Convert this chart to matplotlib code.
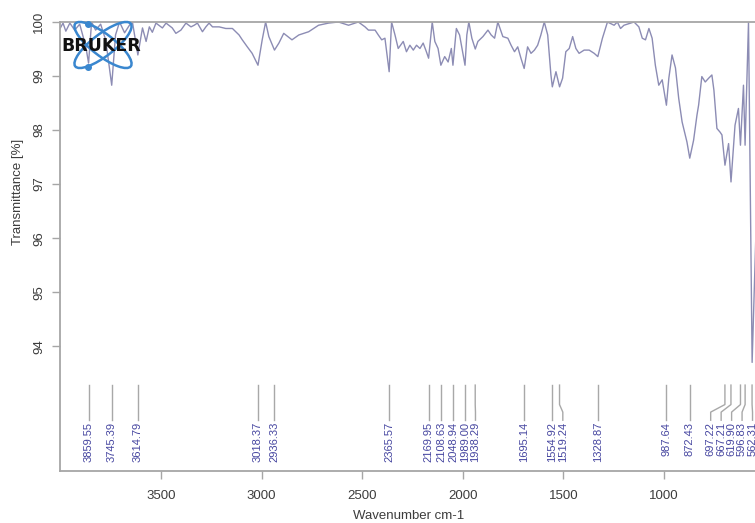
import matplotlib
matplotlib.use('Agg')
import matplotlib.pyplot as plt
from matplotlib.patches import Ellipse
import numpy as np

# spectrum (wavenumber cm-1, transmittance %)
wavenumber = [4000, 3987, 3973, 3953, 3929, 3904, 3874, 3860, 3845, 3825,
              3800, 3775, 3745, 3726, 3706, 3681, 3657, 3642, 3615, 3592,
              3574, 3558, 3543, 3525, 3493, 3475, 3444, 3426, 3401, 3376,
              3351, 3335, 3319, 3294, 3277, 3261, 3244, 3211, 3178, 3145,
              3112, 3096, 3071, 3047, 3018, 2997, 2980, 2964, 2936, 2914,
              2890, 2849, 2815, 2766, 2717, 2667, 2618, 2568, 2519, 2486,
              2469, 2436, 2420, 2403, 2387, 2366, 2354, 2337, 2321, 2296,
              2280, 2263, 2246, 2230, 2213, 2197, 2181, 2170, 2152, 2139,
              2123, 2109, 2090, 2073, 2057, 2049, 2032, 2016, 1989, 1980,
              1970, 1955, 1938, 1925, 1900, 1875, 1859, 1842, 1826, 1801,
              1776, 1760, 1743, 1727, 1711, 1695, 1678, 1661, 1644, 1628,
              1612, 1595, 1578, 1562, 1555, 1537, 1519, 1504, 1488, 1471,
              1454, 1438, 1422, 1397, 1372, 1347, 1329, 1306, 1281, 1248,
              1232, 1216, 1199, 1166, 1149, 1125, 1108, 1092, 1075, 1059,
              1043, 1026, 1009, 988, 976, 960, 943, 927, 910, 886,
              872, 853, 836, 828, 812, 795, 778, 762, 752, 737,
              721, 712, 697, 679, 667, 647, 630, 620, 605, 597,
              580, 562, 520, 480, 440, 400]
transmittance = [99.89, 99.98, 99.83, 99.98, 99.85, 99.96, 99.55, 99.24, 100.0, 99.85,
                 99.96, 99.67, 98.83, 99.76, 100.0, 99.80, 99.94, 100.0, 99.39, 99.89,
                 99.64, 99.91, 99.81, 99.98, 99.89, 99.98, 99.89, 99.79, 99.85, 99.98,
                 99.91, 99.94, 99.98, 99.82, 99.91, 99.98, 99.91, 99.91, 99.88, 99.88,
                 99.76, 99.67, 99.54, 99.42, 99.20, 99.67, 100.0, 99.73, 99.48, 99.61,
                 99.79, 99.67, 99.76, 99.82, 99.94, 99.98, 100.0, 99.94, 100.0, 99.91,
                 99.85, 99.85, 99.76, 99.67, 99.70, 99.08, 100.0, 99.76, 99.51, 99.64,
                 99.45, 99.57, 99.48, 99.57, 99.51, 99.61, 99.45, 99.33, 100.0, 99.64,
                 99.51, 99.20, 99.36, 99.26, 99.51, 99.20, 99.88, 99.76, 99.20, 99.76,
                 100.0, 99.70, 99.50, 99.64, 99.73, 99.85, 99.76, 99.70, 100.0, 99.73,
                 99.70, 99.57, 99.45, 99.54, 99.33, 99.14, 99.54, 99.42, 99.48, 99.57,
                 99.76, 100.0, 99.76, 99.02, 98.80, 99.08, 98.80, 98.96, 99.45, 99.51,
                 99.73, 99.51, 99.42, 99.48, 99.48, 99.42, 99.36, 99.70, 100.0, 99.94,
                 100.0, 99.88, 99.94, 99.98, 100.0, 99.91, 99.70, 99.67, 99.88, 99.70,
                 99.20, 98.83, 98.93, 98.46, 98.96, 99.39, 99.15, 98.59, 98.15, 97.78,
                 97.48, 97.81, 98.28, 98.46, 98.99, 98.89, 98.96, 99.02, 98.74, 98.03,
                 97.96, 97.91, 97.35, 97.75, 97.04, 98.09, 98.40, 97.72, 98.83, 97.72,
                 100.0, 93.70, 99.0, 99.5, 99.6, 99.6]

peaks = [3859.55, 3745.39, 3614.79, 3018.37, 2936.33, 2365.57, 2169.95, 2108.63,
         2048.94, 1989.00, 1938.29, 1695.14, 1554.92, 1519.24, 1328.87, 987.64,
         872.43, 697.22, 667.21, 619.90, 596.83, 562.31]

x_ticks = [3500, 3000, 2500, 2000, 1500, 1000]
y_ticks = [94, 95, 96, 97, 98, 99, 100]

plt.rcParams['font.family'] = ['Liberation Sans', 'DejaVu Sans']

W, H = 755, 523
fig = plt.figure(figsize=(W / 100, H / 100), dpi=100)

# axes placed in pixels: 4000 at x=60.4, 0.2012 px per cm-1, y 91.69..100 from 471 to 22
x0, scale = 60.4, 0.2012
ax = fig.add_axes([x0 / W, (H - 471) / H, 3600 * scale / W, 449 / H])
ax.set_xlim(4000, 400)
ax.set_ylim(91.69, 100)

line_col = '#8c8cb4'
ax.plot(wavenumber, np.clip(transmittance, None, 100), color=line_col, lw=1.0)

spine_col = '#a6a6a6'
for s in ['left', 'bottom', 'top']:
    ax.spines[s].set_color(spine_col)
    ax.spines[s].set_linewidth(1.3)
ax.spines['right'].set_visible(False)

ax.set_xticks(x_ticks)
ax.set_yticks(y_ticks)
ax.tick_params(axis='both', colors=spine_col, labelcolor='#3c3c3c',
               labelsize=9.5, length=6, width=1, pad=8)
ax.tick_params(axis='y', labelrotation=90, pad=5)
for lab in ax.get_yticklabels():
    lab.set_verticalalignment('center')

# peak labels, spread apart where they crowd
gap = 52
label_x = list(peaks)
for i in range(1, len(label_x)):
    label_x[i] = min(label_x[i], label_x[i - 1] - gap)
label_x[-1] = max(label_x[-1], 560)
for i in range(len(label_x) - 2, -1, -1):
    label_x[i] = max(label_x[i], label_x[i + 1] + gap)

for p, lx in zip(peaks, label_x):
    if abs(p - lx) < 1:
        ax.plot([p, p], [93.28, 92.63], color='#a8a8a8', lw=1)
    else:
        ax.plot([p, p, lx, lx], [93.28, 92.92, 92.78, 92.63], color='#a8a8a8', lw=1)
    ax.text(lx, 92.60, '%.2f' % p, rotation=90, ha='center', va='top',
            fontsize=8, color='#4646a0')

fig.text(409 / W, 1 - 516 / H, 'Wavenumber cm-1', ha='center', va='center',
         fontsize=9.5, color='#3c3c3c')
fig.text(18 / W, 1 - 192 / H, 'Transmittance [%]', ha='center', va='center',
         rotation=90, fontsize=9.5, color='#3c3c3c')

# Bruker logo
lg = fig.add_axes([55 / W, 1 - 80 / H, 95 / W, 65 / H])
lg.set_xlim(55, 150)
lg.set_ylim(80, 15)
lg.axis('off')
lg.patch.set_alpha(0)
blue = '#3a87cf'
lg.add_patch(Ellipse((103, 45), 70, 22, angle=37.5, fill=False, ec=blue, lw=1.8))
lg.add_patch(Ellipse((103, 45), 70, 22, angle=-37.5, fill=False, ec=blue, lw=1.8))
lg.plot([88.3, 88.3], [24, 66.7], 'o', color=blue, ms=4)
lg.text(101, 46, 'BRUKER', ha='center', va='center', fontsize=12.5,
        fontweight='heavy', family='DejaVu Sans', color='#111111')

fig.savefig('out.png', dpi=100)
